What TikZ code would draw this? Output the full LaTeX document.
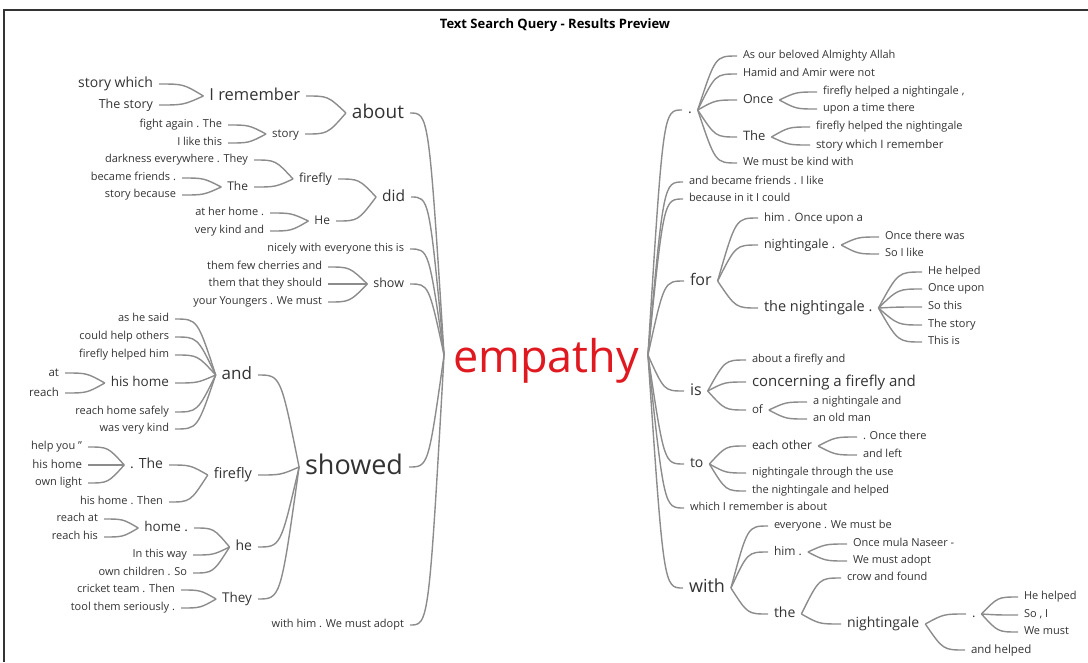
\documentclass[tikz,border=0pt]{standalone}
\usepackage{fontspec}
\setmainfont{Open Sans}
\usetikzlibrary{calc}
\definecolor{ink}{HTML}{333333}
\definecolor{wire}{HTML}{8C8C8C}
\definecolor{hot}{HTML}{E0181F}
\tikzset{
  % box height/depth chosen so the node centre sits at mid x-height
  w/.style={inner sep=0pt, outer xsep=6pt, text=ink, font=\fontsize{#1}{#1}\selectfont,
    text height=\dimexpr #1pt*76/100\relax, text depth=\dimexpr #1pt*22/100\relax},
  lt/.style={w=#1, anchor=east, xshift=6pt},
  rt/.style={w=#1, anchor=west, xshift=-6pt},
  lnk/.style={draw=wire, line width=1.4pt},
  frame/.style={draw=black!80, line width=1.3pt},
}
% left branch: horizontal at the word, meeting the parent at an angle
\newcommand\lk[2]{\draw[lnk] let \p1=(#1.east), \p2=(#2.west) in
  (\p1) .. controls ({\x1+0.55*(\x2-\x1)},\y1) .. (\p2);}
% right branch: leaves the parent at an angle, arrives horizontal
\newcommand\rk[2]{\draw[lnk] let \p1=(#1.east), \p2=(#2.west) in
  (\p1) .. controls ({\x1+0.45*(\x2-\x1)},\y2) .. (\p2);}
\begin{document}
\begin{tikzpicture}[x=1pt,y=-1pt]
\useasboundingbox (0,0) rectangle (1088,662);
\draw[frame] (4,662) -- (4,10) -- (1088,10);
\node[font=\fontsize{13}{13}\selectfont\bfseries] (title) at (555,25) {Text Search Query - Results Preview};

% root
\node[inner sep=0pt, outer xsep=9pt, text=hot, font=\fontsize{45}{45}\selectfont,
  text height=34pt, text depth=0pt] (emp) at (546,355) {empathy};

% ---------- left side ----------
\node[lt=14]   (sw)    at (153,84)  {story which};
\node[lt=12.5] (ts)    at (153,105) {The story};
\node[lt=16.5] (irem)  at (300,96)  {I remember};
\node[lt=19]   (about) at (404,113) {about};
\node[lt=11]   (fa)    at (222,125) {fight again . The};
\node[lt=11]   (ilt)   at (222,143) {I like this};
\node[lt=11.5] (story) at (299,134) {story};
\node[lt=11]   (dark)  at (248,160) {darkness everywhere . They};
\node[lt=11]   (bf)    at (176,178) {became friends .};
\node[lt=11]   (sb)    at (176,195) {story because};
\node[lt=12]   (theA)  at (248,187) {The};
\node[lt=12.5] (ffA)   at (332,179) {firefly};
\node[lt=15.5] (did)   at (405,197) {did};
\node[lt=11]   (ahh)   at (264,213) {at her home .};
\node[lt=11]   (vka)   at (264,231) {very kind and};
\node[lt=12]   (heA)   at (330,221) {He};
\node[lt=11]   (nice)  at (404,249) {nicely with everyone this is};
\node[lt=11]   (tfc)   at (322,267) {them few cherries and};
\node[lt=11]   (ttt)   at (322,284) {them that they should};
\node[lt=11]   (yym)   at (322,302) {your Youngers . We must};
\node[lt=12.5] (show)  at (404,284) {show};
\node[lt=11]   (ahs)   at (169,319) {as he said};
\node[lt=11]   (cho)   at (169,337) {could help others};
\node[lt=11]   (fhh)   at (169,355) {firefly helped him};
\node[lt=11.5] (at)    at (59,373)  {at};
\node[lt=11.5] (reach) at (59,393)  {reach};
\node[lt=13.5] (hhA)   at (169,383) {his home};
\node[lt=17]   (and)   at (252,375) {and};
\node[lt=11]   (rhs)   at (169,412) {reach home safely};
\node[lt=11]   (wvk)   at (169,429) {was very kind};
\node[lt=11]   (hy)    at (82,447)  {help you "};
\node[lt=11.5] (hhB)   at (82,465)  {his home};
\node[lt=11]   (ol)    at (82,483)  {own light};
\node[lt=14]   (dthe)  at (163,465) {. The};
\node[lt=14.5] (ffB)   at (252,475) {firefly};
\node[lt=11]   (hht)   at (163,502) {his home . Then};
\node[lt=27]   (showed) at (403,467) {showed};
\node[lt=11]   (ra)    at (98,519)  {reach at};
\node[lt=11]   (rh)    at (98,537)  {reach his};
\node[lt=13.5] (home)  at (188,528) {home .};
\node[lt=14]   (heB)   at (252,547) {he};
\node[lt=11]   (itw)   at (187,555) {In this way};
\node[lt=11]   (ocs)   at (187,573) {own children . So};
\node[lt=11]   (ctt)   at (175,590) {cricket team . Then};
\node[lt=11]   (tts)   at (175,608) {tool them seriously .};
\node[lt=13.5] (they)  at (252,599) {They};
\node[lt=11]   (whm)   at (404,625) {with him . We must adopt};

\foreach \c in {sw,ts} {\lk{\c}{irem}}
\foreach \c in {fa,ilt} {\lk{\c}{story}}
\foreach \c in {irem,story} {\lk{\c}{about}}
\foreach \c in {bf,sb} {\lk{\c}{theA}}
\foreach \c in {dark,theA} {\lk{\c}{ffA}}
\foreach \c in {ahh,vka} {\lk{\c}{heA}}
\foreach \c in {ffA,heA} {\lk{\c}{did}}
\foreach \c in {tfc,ttt,yym} {\lk{\c}{show}}
\foreach \c in {at,reach} {\lk{\c}{hhA}}
\foreach \c in {ahs,cho,fhh,hhA,rhs,wvk} {\lk{\c}{and}}
\foreach \c in {hy,hhB,ol} {\lk{\c}{dthe}}
\foreach \c in {dthe,hht} {\lk{\c}{ffB}}
\foreach \c in {ra,rh} {\lk{\c}{home}}
\foreach \c in {home,itw,ocs} {\lk{\c}{heB}}
\foreach \c in {ctt,tts} {\lk{\c}{they}}
\foreach \c in {and,ffB,heB,they} {\lk{\c}{showed}}
\foreach \c in {about,did,nice,show,showed,whm} {\lk{\c}{emp}}

% ---------- right side ----------
\node[rt=14]   (dotA)  at (688,110) {.};
\node[rt=11]   (aob)   at (743,56)  {As our beloved Almighty Allah};
\node[rt=11]   (ham)   at (743,74)  {Hamid and Amir were not};
\node[rt=12.5] (once)  at (743,100) {Once};
\node[rt=11]   (fhn)   at (823,92)  {firefly helped a nightingale ,};
\node[rt=11]   (uat)   at (823,109) {upon a time there};
\node[rt=13]   (theB)  at (743,137) {The};
\node[rt=11]   (fhtn)  at (816,127) {firefly helped the nightingale};
\node[rt=11.5] (swir)  at (816,145) {story which I remember};
\node[rt=11]   (wmbk)  at (743,163) {We must be kind with};
\node[rt=11]   (abf)   at (689,182) {and became friends . I like};
\node[rt=11]   (biic)  at (689,199) {because in it I could};
\node[rt=16]   (for)   at (690,281) {for};
\node[rt=11.5] (hou)   at (764,218) {him . Once upon a};
\node[rt=12.5] (nigA)  at (764,245) {nightingale .};
\node[rt=11]   (otw)   at (885,237) {Once there was};
\node[rt=11]   (sil)   at (885,254) {So I like};
\node[rt=14.5] (tn)    at (764,308) {the nightingale .};
\node[rt=11]   (hhC)   at (928,272) {He helped};
\node[rt=11]   (ou)    at (928,289) {Once upon};
\node[rt=11]   (sthis) at (928,307) {So this};
\node[rt=11]   (tstory) at (928,325) {The story};
\node[rt=11]   (tis)   at (928,342) {This is};
\node[rt=16]   (is)    at (690,391) {is};
\node[rt=11]   (aff)   at (752,360) {about a firefly and};
\node[rt=15]   (cfa)   at (752,382) {concerning a firefly and};
\node[rt=11.5] (of)    at (752,410) {of};
\node[rt=11]   (nga)   at (813,402) {a nightingale and};
\node[rt=11]   (aom)   at (813,419) {an old man};
\node[rt=14]   (to)    at (690,464) {to};
\node[rt=12]   (eo)    at (752,446) {each other};
\node[rt=11]   (dot)   at (863,437) {. Once there};
\node[rt=11]   (al)    at (863,455) {and left};
\node[rt=11]   (ntu)   at (752,473) {nightingale through the use};
\node[rt=11]   (tnh)   at (752,491) {the nightingale and helped};
\node[rt=11]   (wir)   at (690,508) {which I remember is about};
\node[rt=18]   (with)  at (689,588) {with};
\node[rt=11]   (ewm)   at (774,526) {everyone . We must be};
\node[rt=12]   (him)   at (774,552) {him .};
\node[rt=11]   (omn)   at (853,544) {Once mula Naseer -};
\node[rt=11]   (wma)   at (853,561) {We must adopt};
\node[rt=14]   (the)   at (774,614) {the};
\node[rt=11]   (caf)   at (847,578) {crow and found};
\node[rt=14]   (nigB)  at (847,624) {nightingale};
\node[rt=13]   (dotB)  at (972,614) {.};
\node[rt=11]   (hhD)   at (1024,597) {He helped};
\node[rt=11]   (soi)   at (1024,615) {So , I};
\node[rt=11]   (wm)    at (1024,632) {We must};
\node[rt=11.5] (ah)    at (971,650) {and helped};

\foreach \c in {dotA,abf,biic,for,is,to,wir,with} {\rk{emp}{\c}}
\foreach \c in {aob,ham,once,theB,wmbk} {\rk{dotA}{\c}}
\foreach \c in {fhn,uat} {\rk{once}{\c}}
\foreach \c in {fhtn,swir} {\rk{theB}{\c}}
\foreach \c in {hou,nigA,tn} {\rk{for}{\c}}
\foreach \c in {otw,sil} {\rk{nigA}{\c}}
\foreach \c in {hhC,ou,sthis,tstory,tis} {\rk{tn}{\c}}
\foreach \c in {aff,cfa,of} {\rk{is}{\c}}
\foreach \c in {nga,aom} {\rk{of}{\c}}
\foreach \c in {eo,ntu,tnh} {\rk{to}{\c}}
\foreach \c in {dot,al} {\rk{eo}{\c}}
\foreach \c in {ewm,him,the} {\rk{with}{\c}}
\foreach \c in {omn,wma} {\rk{him}{\c}}
\foreach \c in {caf,nigB} {\rk{the}{\c}}
\foreach \c in {dotB,ah} {\rk{nigB}{\c}}
\foreach \c in {hhD,soi,wm} {\rk{dotB}{\c}}
\end{tikzpicture}
\end{document}
